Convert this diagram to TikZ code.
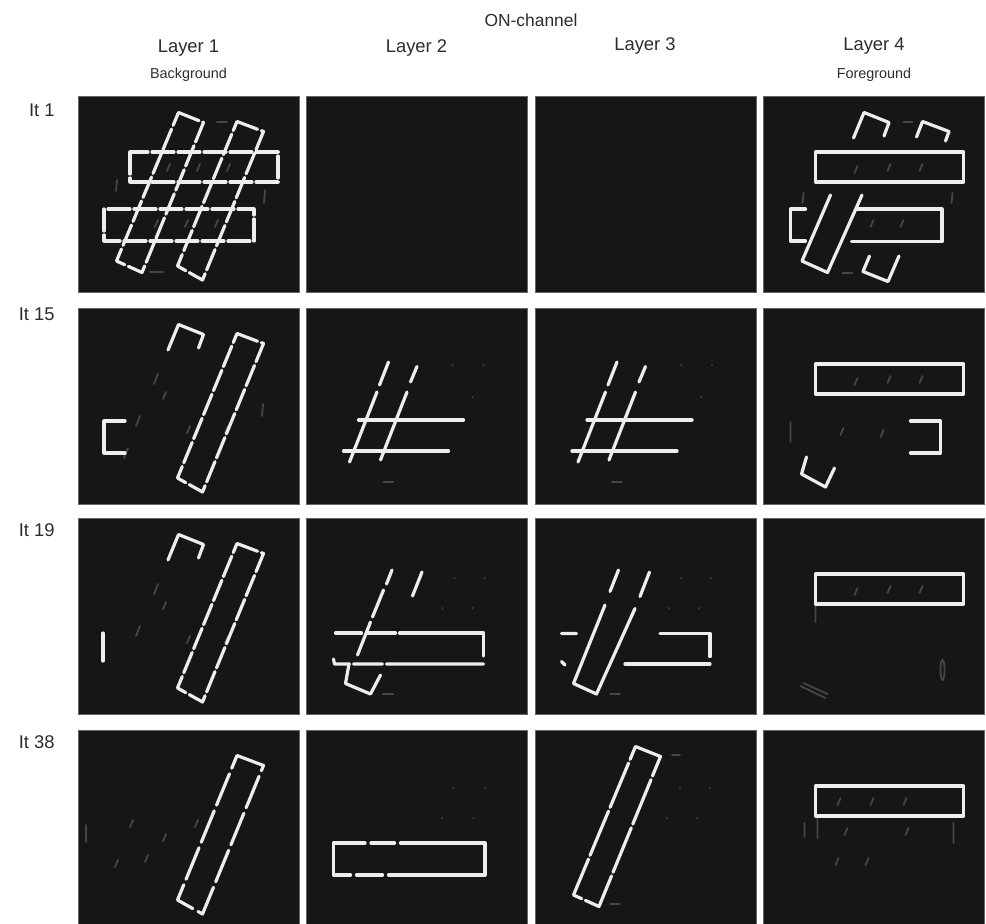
\documentclass[tikz,border=0pt]{standalone}
\usepackage{fontspec}
\setmainfont{Liberation Sans}
\usetikzlibrary{positioning}

\definecolor{panelbg}{RGB}{22,22,22}
\definecolor{ghostgray}{RGB}{70,70,70}
\definecolor{textgray}{RGB}{45,45,45}

% the four bars, in pixel units inside one panel (y grows downward)
\newcommand{\barL}{(100.5,16.5) -- (125.5,26.5) -- (64,176.5) -- (38.5,165) -- cycle}
\newcommand{\barR}{(159,25.5) -- (185.5,35.5) -- (124.5,184) -- (99.5,170) -- cycle}
\newcommand{\boxUp}{(52,56) rectangle (200,86)}
\newcommand{\boxLow}{(26,113) rectangle (176,145)}

\begin{document}
\begin{tikzpicture}[
  x=0.5pt, y=-0.5pt,
  panel/.style={draw=black!60, line width=0.3pt, fill=panelbg, anchor=north west,
                minimum width=110.5pt, minimum height=98pt, inner sep=0pt, outer sep=0pt},
  title/.style={font=\fontsize{8.7}{10}\selectfont, text=textgray, inner sep=0pt, anchor=base},
  layer/.style={font=\fontsize{9.2}{11}\selectfont, text=textgray, inner sep=0pt, anchor=base},
  sub/.style={font=\fontsize{7.2}{8}\selectfont, text=textgray, inner sep=0pt},
  iter/.style={font=\fontsize{9.2}{11}\selectfont, text=textgray, inner sep=0pt, anchor=base east},
  bar/.style={draw=white!93!black, line width=1.6pt, line join=round, line cap=round},
  brk/.style={bar, dash pattern=on 11pt off 2pt},
  ghost/.style={draw=ghostgray, line width=0.9pt, line cap=round}
]
\useasboundingbox (0,0) rectangle (986,923);
\fill[white] (0,0) rectangle (986,923);

% headings
\node[title] (on) at (531,26) {ON-channel};
\node[layer] (l1) at (188.5,52) {Layer 1};
\node[layer] (l2) at (416.5,52) {Layer 2};
\node[layer] (l3) at (645,50) {Layer 3};
\node[layer] (l4) at (874,50) {Layer 4};
\node[sub, below=5.5pt of l1] (bg) {Background};
\node[sub, below=6.5pt of l4] (fg) {Foreground};

\node[iter] (r1) at (55,116) {It 1};
\node[iter] (r2) at (55,320) {It 15};
\node[iter] (r3) at (55,536) {It 19};
\node[iter] (r4) at (55,748) {It 38};

% panels
\node[panel] (p11) at (78,96) {};
\node[panel] (p12) at (306.5,96) {};
\node[panel] (p13) at (535,96) {};
\node[panel] (p14) at (763.5,96) {};
\node[panel] (p21) at (78,308) {};
\node[panel] (p22) at (306.5,308) {};
\node[panel] (p23) at (535,308) {};
\node[panel] (p24) at (763.5,308) {};
\node[panel] (p31) at (78,518) {};
\node[panel] (p32) at (306.5,518) {};
\node[panel] (p33) at (535,518) {};
\node[panel] (p34) at (763.5,518) {};
\node[panel] (p41) at (78,730) {};
\node[panel] (p42) at (306.5,730) {};
\node[panel] (p43) at (535,730) {};
\node[panel] (p44) at (763.5,730) {};

% It 1
\begin{scope}[shift={(p11.north west)}]
  \draw[ghost] (139,26) -- (149,26) (72,176) -- (85,176) (39,84) -- (38,95) (187,94) -- (186,107);
  \draw[ghost] (92,68) -- ++(-3,7) (122,68) -- ++(-3,7) (152,68) -- ++(-3,7)
               (80,124) -- ++(-3,7) (110,124) -- ++(-3,7) (140,124) -- ++(-3,7);
  \draw[brk] \boxUp;
  \draw[brk] \boxLow;
  \draw[brk] \barL;
  \draw[brk] \barR;
\end{scope}
\begin{scope}[shift={(p14.north west)}]
  \draw[ghost] (140,26) -- (149,26) (79,177) -- (89,177) (40,97) -- (39,107) (189,97) -- (188,107);
  \draw[ghost] (94,70) -- ++(-3,7) (127,68) -- ++(-3,7) (159,68) -- ++(-3,7)
               (110,124) -- ++(-3,7) (140,124) -- ++(-3,7);
  \draw[bar] (90,42) -- (100.5,16.5) -- (125.5,26.5) -- (120.5,40);
  \draw[bar] (153,41) -- (159,25.5) -- (185.5,35.5) -- (182,45);
  \draw[bar] \boxUp;
  \draw[bar] (67,99) -- (38.5,165) -- (64,176.5) -- (98.5,99);
  \draw[bar] (42,113) -- (27,113) -- (27,145) -- (42,145);
  \draw[bar] (94,113) -- (178.5,113) -- (178.5,145.5) -- (88,145.5);
  \draw[bar] (106,160) -- (99.5,175.5) -- (124.5,185.5) -- (135.5,160);
\end{scope}

% It 15
\begin{scope}[shift={(p21.north west)}]
  \draw[ghost] (80,66) -- (76,76) (62,108) -- (58,118) (50,140) -- (46,150)
               (88,84) -- ++(-3,7) (112,118) -- ++(-3,7) (150,118) -- ++(-3,7) (185,96) -- (184,108);
  \draw[bar] (90,42) -- (100.5,16.5) -- (125.5,26.5) -- (120.5,40);
  \draw[brk] \barR;
  \draw[bar] (47,113) -- (26,113) -- (26,145) -- (47,145);
\end{scope}
\begin{scope}[shift={(p22.north west)}]
  \draw[ghost] (77,174) -- (87,174);
  \fill[ghostgray] (146,57) circle (1) (177,57) circle (1) (166,89) circle (1);
  \draw[bar] (82,54) -- (73,77);
  \draw[bar] (70.5,84) -- (43,154);
  \draw[bar] (110.5,58.5) -- (104,74);
  \draw[bar] (100.5,84) -- (74,152);
  \draw[bar] (52,112) -- (157,112);
  \draw[bar] (37,143) -- (142,143);
\end{scope}
\begin{scope}[shift={(p23.north west)}]
  \draw[ghost] (77,174) -- (87,174);
  \fill[ghostgray] (146,57) circle (1) (177,57) circle (1) (166,89) circle (1);
  \draw[bar] (82,54) -- (73,77);
  \draw[bar] (70.5,84) -- (43,154);
  \draw[bar] (110.5,58.5) -- (104,74);
  \draw[bar] (100.5,84) -- (74,152);
  \draw[bar] (52,112) -- (157,112);
  \draw[bar] (37,143) -- (142,143);
\end{scope}
\begin{scope}[shift={(p24.north west)}]
  \draw[ghost] (27,114) -- (27,134) (94,70) -- ++(-3,7) (127,68) -- ++(-3,7) (159,68) -- ++(-3,7)
               (80,120) -- ++(-3,7) (120,122) -- ++(-3,7);
  \draw[bar] \boxUp;
  \draw[bar] (147,113) -- (177,113) -- (177,145) -- (147,145);
  \draw[bar] (43,149) -- (38,166) -- (62,179) -- (71,160);
\end{scope}

% It 19
\begin{scope}[shift={(p31.north west)}]
  \draw[ghost] (80,66) -- (76,76) (62,108) -- (58,118) (88,84) -- ++(-3,7)
               (112,118) -- ++(-3,7) (150,118) -- ++(-3,7);
  \draw[bar] (90,42) -- (100.5,16.5) -- (125.5,26.5) -- (120.5,40);
  \draw[brk] \barR;
  \draw[bar] (25,115) -- (25,143);
\end{scope}
\begin{scope}[shift={(p32.north west)}]
  \draw[ghost] (76,176) -- (87,176);
  \fill[ghostgray] (148,60) circle (1) (178,60) circle (1) (136,90) circle (1) (166,90) circle (1);
  \draw[bar] (85.5,52) -- (80,66) (77,72) -- (66,99) (64,104) -- (51,137);
  \draw[bar] (115.5,54) -- (106,78);
  \draw[bar] (29,115) -- (55,115) (60,115) -- (89,115) (93,115) -- (177,115) -- (177,138);
  \draw[bar] (27,141) -- (28,146) -- (43,146) (47,146) -- (76,146) (80,146) -- (177,146);
  \draw[bar] (42.5,146) -- (39,165.5) -- (64,176) -- (74,157);
\end{scope}
\begin{scope}[shift={(p33.north west)}]
  \draw[ghost] (75,176) -- (85,176);
  \fill[ghostgray] (146,60) circle (1) (176,60) circle (1) (134,90) circle (1) (164,90) circle (1);
  \draw[bar] (83.5,52) -- (75,73.5) (70,87) -- (38.5,165.5) -- (61.5,176) -- (100,90.5) (105,78.5) -- (114.5,54);
  \draw[bar] (41.5,115.5) -- (26.5,115.5) (26.5,143.5) -- (30,147);
  \draw[bar] (125,115.5) -- (175,115.5) -- (175,138.5);
  \draw[bar] (90,146) -- (175,146);
\end{scope}
\begin{scope}[shift={(p34.north west)}]
  \draw[ghost] (52,88) -- (52,104) (94,70) -- ++(-3,7) (127,68) -- ++(-3,7) (159,68) -- ++(-3,7)
               (37,168) -- (62,180) (40,165) -- (64,176);
  \draw[ghost] (179,152) ellipse (2 and 10);
  \draw[bar] \boxUp;
\end{scope}

% It 38
\begin{scope}[shift={(p41.north west)}]
  \draw[ghost] (8,95) -- (8,112) (55,90) -- ++(-3,7) (88,104) -- ++(-3,7) (120,90) -- ++(-3,7)
               (70,125) -- ++(-3,7) (40,130) -- ++(-3,7);
  \draw[brk, dash pattern=on 17pt off 3pt] \barR;
\end{scope}
\begin{scope}[shift={(p42.north west)}]
  \fill[ghostgray] (147,58) circle (1) (178.5,58) circle (1) (135.5,88) circle (1) (167,88) circle (1);
  \draw[bar] (58.5,113) -- (27,113) -- (27,145) -- (44,145);
  \draw[bar] (64.5,113) -- (88,113) (50,145) -- (76,145);
  \draw[bar] (94,113) -- (178.5,113) -- (178.5,145) -- (82,145);
\end{scope}
\begin{scope}[shift={(p43.north west)}]
  \draw[ghost] (137,25) -- (145,25) (75,174) -- (85,174);
  \fill[ghostgray] (145,58) circle (1) (175,58) circle (1) (132,88) circle (1) (162,88) circle (1);
  \draw[brk, dash pattern=on 24pt off 2pt] \barL;
\end{scope}
\begin{scope}[shift={(p44.north west)}]
  \draw[ghost] (77,68) -- ++(-3,7) (110,68) -- ++(-3,7) (143,68) -- ++(-3,7)
               (54,88) -- (54,108) (41,93) -- (41,107) (190,93) -- (190,113)
               (84,98) -- ++(-3,7) (145,98) -- ++(-3,7) (75,128) -- ++(-3,7) (105,128) -- ++(-3,7);
  \draw[bar] \boxUp;
\end{scope}
\end{tikzpicture}
\end{document}
